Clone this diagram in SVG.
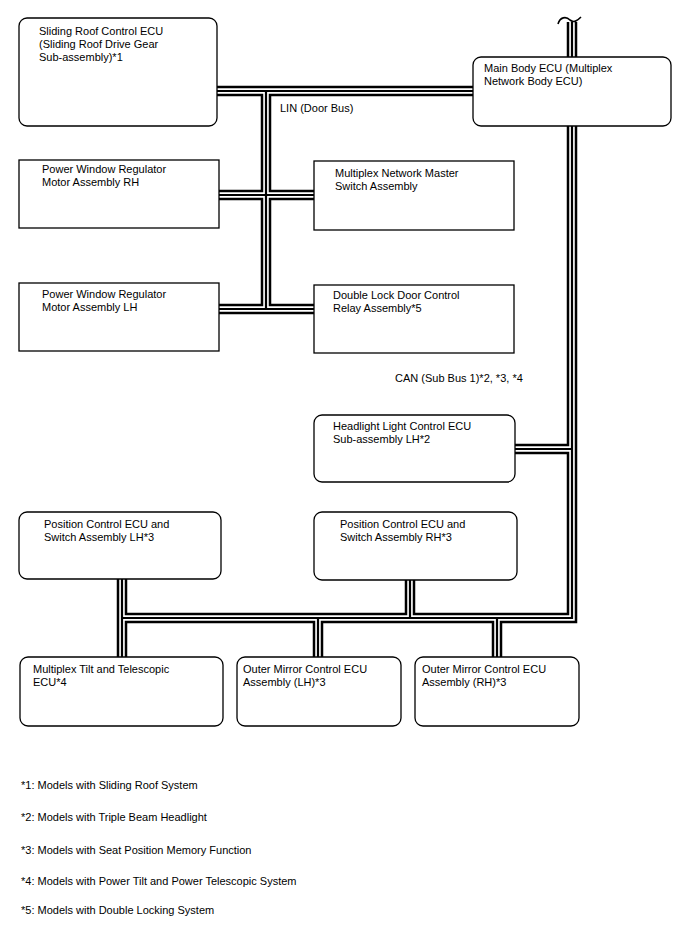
<svg xmlns="http://www.w3.org/2000/svg" width="688" height="949" viewBox="0 0 688 949">
<style>
.box{fill:#fff;stroke:#000;stroke-width:1.3}
text{font-family:"Liberation Sans",Arial,sans-serif;font-size:11px;fill:#000}
.b1{fill:none;stroke:#000;stroke-width:10.5;stroke-linejoin:miter}
.b2{fill:none;stroke:#fff;stroke-width:5.5;stroke-linejoin:miter}
.b3{fill:none;stroke:#000;stroke-width:2.2;stroke-linejoin:miter}
</style>
<defs>
<path id="bus" d="M217,91 H473 M266,91 V309 M219,195 H314 M219,309 H314 M572,22 V57 M572,125 V618 H122 M515,449 H572 M122,579 V657 M410,580 V618 M318,618 V657 M497,618 V657"/>
</defs>
<g id="connectors">
<use href="#bus" class="b1"/>
<use href="#bus" class="b2"/>
<use href="#bus" class="b3"/>
<path d="M558,24 C560,17 566,16 570,20 C574,23 577,21 581,17" fill="none" stroke="#000" stroke-width="1.6"/>
</g>
<g id="sliding-roof"><rect class="box" x="19" y="18" width="198" height="108" rx="8"/>
<text x="39" y="35">Sliding Roof Control ECU</text><text x="39" y="48">(Sliding Roof Drive Gear</text><text x="39" y="61">Sub-assembly)*1</text></g>
<g id="main-body"><rect class="box" x="473" y="57" width="198" height="69" rx="8"/>
<text x="484" y="72">Main Body ECU (Multiplex</text><text x="484" y="85">Network Body ECU)</text></g>
<text x="280" y="112">LIN (Door Bus)</text>
<g id="pw-rh"><rect class="box" x="19" y="160" width="200" height="68"/>
<text x="42" y="173">Power Window Regulator</text><text x="42" y="186">Motor Assembly RH</text></g>
<g id="master-sw"><rect class="box" x="314" y="161" width="200" height="69"/>
<text x="335" y="177">Multiplex Network Master</text><text x="335" y="190">Switch Assembly</text></g>
<g id="pw-lh"><rect class="box" x="19" y="283" width="200" height="68"/>
<text x="42" y="298">Power Window Regulator</text><text x="42" y="311">Motor Assembly LH</text></g>
<g id="double-lock"><rect class="box" x="314" y="285" width="200" height="68"/>
<text x="333" y="299">Double Lock Door Control</text><text x="333" y="312">Relay Assembly*5</text></g>
<text x="395" y="382">CAN (Sub Bus 1)*2, *3, *4</text>
<g id="headlight"><rect class="box" x="314" y="415" width="201" height="67" rx="8"/>
<text x="333" y="430">Headlight Light Control ECU</text><text x="333" y="443">Sub-assembly LH*2</text></g>
<g id="pos-lh"><rect class="box" x="19" y="512" width="202" height="67" rx="8"/>
<text x="44" y="528">Position Control ECU and</text><text x="44" y="541">Switch Assembly LH*3</text></g>
<g id="pos-rh"><rect class="box" x="314" y="512" width="203" height="68" rx="8"/>
<text x="340" y="528">Position Control ECU and</text><text x="340" y="541">Switch Assembly RH*3</text></g>
<g id="tilt"><rect class="box" x="20" y="657" width="203" height="69" rx="8"/>
<text x="33" y="673">Multiplex Tilt and Telescopic</text><text x="33" y="686">ECU*4</text></g>
<g id="mirror-lh"><rect class="box" x="237" y="657" width="164" height="69" rx="8"/>
<text x="243" y="673">Outer Mirror Control ECU</text><text x="243" y="686">Assembly (LH)*3</text></g>
<g id="mirror-rh"><rect class="box" x="415" y="657" width="164" height="69" rx="8"/>
<text x="422" y="673">Outer Mirror Control ECU</text><text x="422" y="686">Assembly (RH)*3</text></g>
<g id="notes">
<text x="21" y="789">*1: Models with Sliding Roof System</text>
<text x="21" y="821">*2: Models with Triple Beam Headlight</text>
<text x="21" y="854">*3: Models with Seat Position Memory Function</text>
<text x="21" y="885">*4: Models with Power Tilt and Power Telescopic System</text>
<text x="21" y="914">*5: Models with Double Locking System</text>
</g>
</svg>
